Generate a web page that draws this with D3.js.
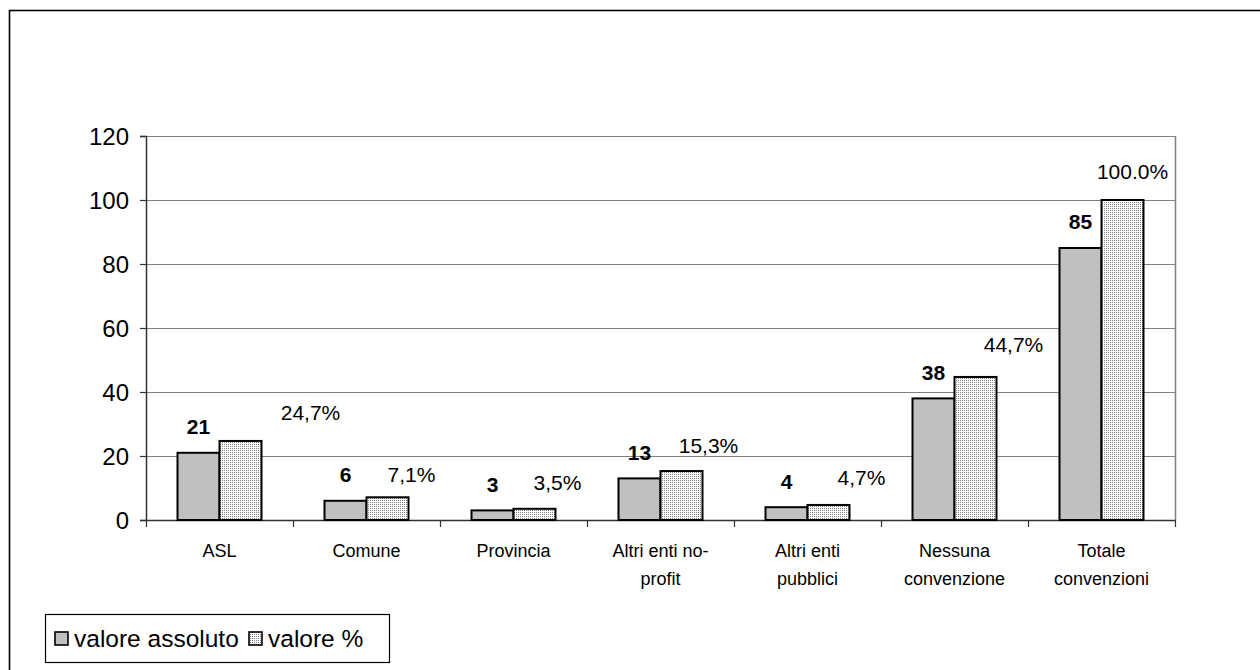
<!DOCTYPE html>
<html><head><meta charset="utf-8">
<script src="https://cdn.jsdelivr.net/npm/d3@7"></script>
<style>html,body{margin:0;padding:0;background:#fff;} svg{display:block;font-family:"Liberation Sans",Arial,sans-serif;}</style>
</head><body>
<svg id="c" width="1260" height="670"></svg>
<script>
const categories = [["ASL"],["Comune"],["Provincia"],["Altri enti no-","profit"],["Altri enti","pubblici"],["Nessuna","convenzione"],["Totale","convenzioni"]];
const valoreAssoluto = [21, 6, 3, 13, 4, 38, 85];
const valorePct = [24.7, 7.1, 3.5, 15.3, 4.7, 44.7, 100.0];
const pctLabels = ["24,7%","7,1%","3,5%","15,3%","4,7%","44,7%","100.0%"];
const yTicks = [0, 20, 40, 60, 80, 100, 120];
const seriesNames = ["valore assoluto", "valore %"];
// label nudges (layout only)
const pctDx = [70, 24, 23, 27, 33, 38, 10];
const pctDy = [28, 23, 26, 25, 27, 32, 28];

const svg = d3.select("#c");
const defs = svg.append("defs");
const pat = defs.append("pattern").attr("id","dots").attr("patternUnits","userSpaceOnUse").attr("width",2).attr("height",2);
pat.append("rect").attr("width",2).attr("height",2).attr("fill","#fff");
pat.append("rect").attr("width",1).attr("height",1).attr("fill","#808080");

const L = 146, R = 1175, T = 136, B = 520;
const keys = categories.map(c => c.join(" "));
const x = d3.scaleBand().domain(keys).range([L, R]);
const xs = d3.scaleBand().domain([0,1]).range([0, x.bandwidth()]).paddingOuter(0.75);
const y = d3.scaleLinear().domain([0,120]).range([B, T]);

// outer border
svg.append("rect").attr("x",9.5).attr("y",10.5).attr("width",1300).attr("height",700)
  .attr("fill","none").attr("stroke","#000").attr("stroke-width",1.6);

// gridlines
svg.append("g").selectAll("line").data(yTicks.filter(t=>t>0)).join("line")
  .attr("x1",L).attr("x2",R).attr("y1",d=>Math.round(y(d))+0.5).attr("y2",d=>Math.round(y(d))+0.5)
  .attr("stroke","#808080").attr("stroke-width",1);
svg.append("line").attr("x1",R+0.5).attr("x2",R+0.5).attr("y1",T).attr("y2",B).attr("stroke","#808080").attr("stroke-width",1.5);

// y axis
const ya = svg.append("g").attr("transform",`translate(${L},0)`)
  .call(d3.axisLeft(y).tickValues(yTicks).tickSize(6).tickPadding(11));
ya.select(".domain").attr("stroke","#333").attr("stroke-width",1.5);
ya.selectAll(".tick line").attr("stroke","#333").attr("stroke-width",1.2);
ya.selectAll("text").attr("font-size",24).attr("fill","#000").attr("font-family","Liberation Sans, Arial, sans-serif").attr("dy","0.35em");

// x axis
svg.append("line").attr("x1",L).attr("x2",R+1).attr("y1",B+0.5).attr("y2",B+0.5).attr("stroke","#333").attr("stroke-width",1.5);
const bounds = keys.map(k => x(k)).concat([R]);
svg.append("g").selectAll("line").data(bounds).join("line")
  .attr("x1",d=>Math.round(d)+0.5).attr("x2",d=>Math.round(d)+0.5).attr("y1",B).attr("y2",B+7)
  .attr("stroke","#333").attr("stroke-width",1.2);

// category labels
const cl = svg.append("g").selectAll("text").data(categories).join("text")
  .attr("x",(d,i)=>x(keys[i])+x.bandwidth()/2).attr("text-anchor","middle")
  .attr("font-size",18).attr("fill","#000");
cl.each(function(d){
  const t = d3.select(this);
  d.forEach((line,j)=>{
    t.append("tspan").attr("x",t.attr("x")).attr("y",557+j*28).text(line);
  });
});

// bars
const g = svg.append("g");
g.selectAll("rect.a").data(valoreAssoluto).join("rect").attr("class","a")
  .attr("x",(d,i)=>x(keys[i])+xs(0)).attr("width",xs.bandwidth())
  .attr("y",d=>y(d)).attr("height",d=>B-y(d))
  .attr("fill","#c0c0c0").attr("stroke","#000").attr("stroke-width",2);
g.selectAll("rect.p").data(valorePct).join("rect").attr("class","p")
  .attr("x",(d,i)=>x(keys[i])+xs(1)).attr("width",xs.bandwidth())
  .attr("y",d=>y(d)).attr("height",d=>B-y(d))
  .attr("fill","url(#dots)").attr("stroke","#000").attr("stroke-width",2);

// value labels
svg.append("g").selectAll("text").data(valoreAssoluto).join("text")
  .attr("x",(d,i)=>x(keys[i])+xs(0)+xs.bandwidth()/2).attr("y",d=>y(d)-26)
  .attr("dy","0.35em").attr("text-anchor","middle").attr("font-size",21).attr("font-weight","bold")
  .text(d=>d);
svg.append("g").selectAll("text").data(valorePct).join("text")
  .attr("x",(d,i)=>x(keys[i])+xs(1)+xs.bandwidth()/2+pctDx[i]).attr("y",(d,i)=>y(d)-pctDy[i])
  .attr("dy","0.35em").attr("text-anchor","middle").attr("font-size",21)
  .text((d,i)=>pctLabels[i]);

// legend
const lg = svg.append("g");
lg.append("rect").attr("x",45.5).attr("y",614.5).attr("width",344).attr("height",48)
  .attr("fill","#fff").attr("stroke","#000").attr("stroke-width",1.2);
const fills = ["#c0c0c0","url(#dots)"];
const lx = [55, 249];
seriesNames.forEach((s,i)=>{
  lg.append("rect").attr("x",lx[i]).attr("y",632).attr("width",13).attr("height",13)
    .attr("fill",fills[i]).attr("stroke","#000").attr("stroke-width",1.6);
  lg.append("text").attr("x",lx[i]+19).attr("y",638).attr("dy","0.35em").attr("font-size",24.5).text(s);
});
</script>
</body></html>
